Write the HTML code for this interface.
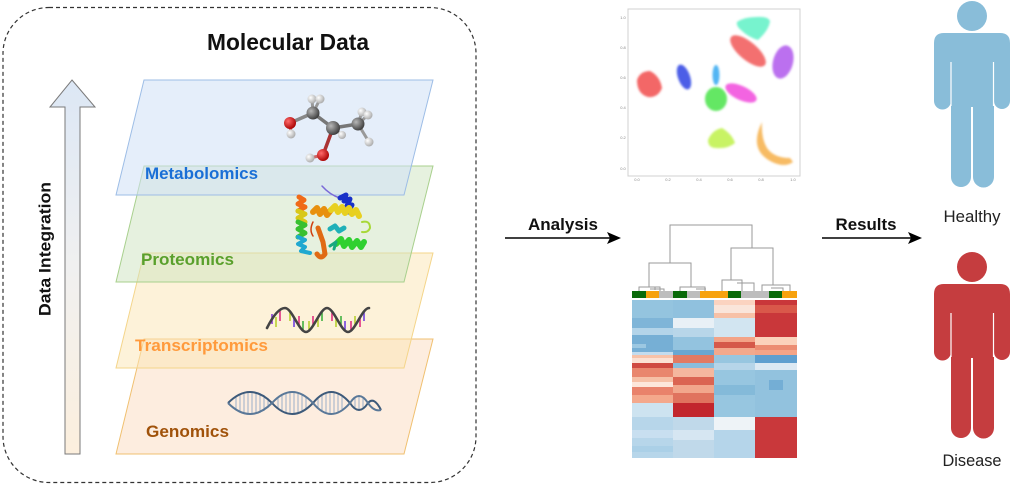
<!DOCTYPE html>
<html><head><meta charset="utf-8"><style>
html,body{margin:0;padding:0;background:#fff;}
svg{display:block;font-family:"Liberation Sans",Arial,sans-serif;}
</style></head><body>
<svg width="1024" height="484" viewBox="0 0 1024 484" xmlns="http://www.w3.org/2000/svg">
<defs>
<linearGradient id="arrG" x1="0" y1="0" x2="0" y2="1">
<stop offset="0" stop-color="#dce7f5"/><stop offset="0.5" stop-color="#f0f0f0"/><stop offset="1" stop-color="#fcefdd"/>
</linearGradient>
<radialGradient id="gC" cx="0.35" cy="0.35" r="0.7"><stop offset="0" stop-color="#b8b8b8"/><stop offset="1" stop-color="#3a3a3a"/></radialGradient>
<radialGradient id="gO" cx="0.35" cy="0.35" r="0.7"><stop offset="0" stop-color="#ff6a6a"/><stop offset="1" stop-color="#a80000"/></radialGradient>
<radialGradient id="gH" cx="0.35" cy="0.35" r="0.7"><stop offset="0" stop-color="#ffffff"/><stop offset="1" stop-color="#a8a8a8"/></radialGradient>
<filter id="blur" x="-20%" y="-20%" width="140%" height="140%"><feGaussianBlur stdDeviation="1"/></filter>
</defs>

<!-- dashed container -->
<rect x="3" y="7.5" width="473" height="475" rx="46" ry="46" fill="none" stroke="#333" stroke-width="1.2" stroke-dasharray="4,3"/>
<text x="288" y="50" font-size="23" font-weight="bold" text-anchor="middle" fill="#111" textLength="162" lengthAdjust="spacingAndGlyphs">Molecular Data</text>

<!-- data integration arrow -->
<polygon points="72,80 95,107 80,107 80,454 65,454 65,107 50,107" fill="url(#arrG)" stroke="#7a7a7a" stroke-width="1"/>
<text transform="translate(50.5,249) rotate(-90)" font-size="17" font-weight="bold" text-anchor="middle" fill="#111" textLength="134" lengthAdjust="spacingAndGlyphs">Data Integration</text>

<!-- planes -->
<polygon points="144,339 433,339 404,454 116,454" fill="#fcdcc0" fill-opacity="0.5" stroke="#f0c070" stroke-width="1"/>
<polygon points="144,253 433,253 404,368 116,368" fill="#fce6b3" fill-opacity="0.5" stroke="#f4d58a" stroke-width="1"/>
<polygon points="144,166 433,166 404,282 116,282" fill="#cde3c0" fill-opacity="0.5" stroke="#a8d08d" stroke-width="1"/>
<polygon points="144,80 433,80 404,195 116,195" fill="#cfe0f5" fill-opacity="0.55" stroke="#9dbde6" stroke-width="1"/>

<!-- labels -->
<text x="145" y="179" font-size="17" font-weight="bold" fill="#1a6fd6" textLength="113" lengthAdjust="spacingAndGlyphs">Metabolomics</text>
<text x="141" y="265" font-size="17" font-weight="bold" fill="#5aa02c" textLength="93" lengthAdjust="spacingAndGlyphs">Proteomics</text>
<text x="135" y="351" font-size="17" font-weight="bold" fill="#ff9a3c" textLength="133" lengthAdjust="spacingAndGlyphs">Transcriptomics</text>
<text x="146" y="437" font-size="17" font-weight="bold" fill="#a0520a" textLength="83" lengthAdjust="spacingAndGlyphs">Genomics</text>

<!-- molecule -->
<g stroke-linecap="round">
<line x1="313" y1="113" x2="290" y2="123" stroke="#888" stroke-width="3.5"/>
<line x1="313" y1="113" x2="333" y2="128" stroke="#777" stroke-width="3.5"/>
<line x1="333" y1="128" x2="358" y2="124" stroke="#777" stroke-width="3.5"/>
<line x1="333" y1="128" x2="323" y2="155" stroke="#a33" stroke-width="3.5"/>
<line x1="290" y1="123" x2="291" y2="134" stroke="#c66" stroke-width="3"/>
<line x1="323" y1="155" x2="310" y2="158" stroke="#c66" stroke-width="3"/>
<line x1="313" y1="113" x2="312" y2="99" stroke="#999" stroke-width="3"/>
<line x1="313" y1="113" x2="320" y2="99" stroke="#999" stroke-width="3"/>
<line x1="358" y1="124" x2="362" y2="112" stroke="#999" stroke-width="3"/>
<line x1="358" y1="124" x2="368" y2="115" stroke="#999" stroke-width="3"/>
<line x1="358" y1="124" x2="369" y2="142" stroke="#999" stroke-width="3"/>
<line x1="333" y1="128" x2="342" y2="135" stroke="#999" stroke-width="3"/>
</g>
<circle cx="312" cy="99" r="4.5" fill="url(#gH)"/>
<circle cx="320" cy="99" r="4.5" fill="url(#gH)"/>
<circle cx="362" cy="112" r="4.5" fill="url(#gH)"/>
<circle cx="368" cy="115" r="4.5" fill="url(#gH)"/>
<circle cx="313" cy="113" r="6.5" fill="url(#gC)"/>
<circle cx="290" cy="123" r="6" fill="url(#gO)"/>
<circle cx="291" cy="134" r="4.5" fill="url(#gH)"/>
<circle cx="358" cy="124" r="6.5" fill="url(#gC)"/>
<circle cx="342" cy="135" r="4" fill="url(#gH)"/>
<circle cx="333" cy="128" r="7" fill="url(#gC)"/>
<circle cx="369" cy="142" r="4.5" fill="url(#gH)"/>
<circle cx="323" cy="155" r="6" fill="url(#gO)"/>
<circle cx="310" cy="158" r="4.5" fill="url(#gH)"/>

<!-- protein -->
<g fill="none" stroke-linecap="round" stroke-linejoin="round">
<path d="M322,186 Q330,195 340,198" stroke="#7a6ad8" stroke-width="1.5"/>
<path d="M340,198 l6,-3 l-2,6 l6,-2 l-3,7 l5,-1 l-4,7" stroke="#1830c8" stroke-width="5"/>
<path d="M299,197 l5,3 l-6,4 l7,3 l-7,4" stroke="#f06a18" stroke-width="5"/>
<path d="M298,211 l7,3 l-7,4 l7,4" stroke="#d8c818" stroke-width="5"/>
<path d="M298,222 l7,3 l-7,4 l7,4 l-7,4" stroke="#38c030" stroke-width="5"/>
<path d="M298,237 l7,3 l-7,4 l7,3 l-4,4 l9,2" stroke="#20a8d0" stroke-width="4"/>
<path d="M313,212 l4,-4 l3,6 l4,-5 l3,6 l4,-5" stroke="#e8900e" stroke-width="6"/>
<path d="M331,210 l4,-4 l3,6 l4,-5 l3,6 l4,-5 l3,6 l4,-4 l3,6" stroke="#e8d020" stroke-width="6"/>
<path d="M362,222 q8,-2 8,6 q-2,5 -8,4" stroke="#a8d838" stroke-width="2"/>
<path d="M318,228 l5,14 l2,12 q-4,6 -8,0" stroke="#e06a14" stroke-width="5"/>
<path d="M313,222 q-4,8 0,14" stroke="#d04010" stroke-width="1.5"/>
<path d="M330,229 l5,-3 l4,5 l5,-3" stroke="#20b0b8" stroke-width="5"/>
<path d="M336,244 l5,-5 l3,7 l5,-6 l3,7 l5,-6 l4,6 l3,-5" stroke="#30d030" stroke-width="6"/>
<path d="M330,246 l6,-4 l-2,7" stroke="#18a880" stroke-width="3"/>
</g>

<!-- RNA -->
<g stroke-width="1.6">
<line x1="272" y1="314" x2="272" y2="324" stroke="#8a3ad8"/>
<line x1="276" y1="317" x2="276" y2="327" stroke="#b8d030"/>
<line x1="280" y1="311" x2="280" y2="321" stroke="#e03080"/>
<line x1="290" y1="311" x2="290" y2="321" stroke="#b8d030"/>
<line x1="294" y1="317" x2="294" y2="327" stroke="#7040e0"/>
<line x1="299" y1="316" x2="299" y2="326" stroke="#e03080"/>
<line x1="303" y1="321" x2="303" y2="331" stroke="#40b040"/>
<line x1="309" y1="321" x2="309" y2="331" stroke="#b8d030"/>
<line x1="313" y1="316" x2="313" y2="326" stroke="#e03080"/>
<line x1="318" y1="317" x2="318" y2="327" stroke="#b8d030"/>
<line x1="322" y1="311" x2="322" y2="321" stroke="#40b040"/>
<line x1="332" y1="311" x2="332" y2="321" stroke="#e03080"/>
<line x1="336" y1="317" x2="336" y2="327" stroke="#b8d030"/>
<line x1="341" y1="316" x2="341" y2="326" stroke="#40b040"/>
<line x1="345" y1="321" x2="345" y2="331" stroke="#7040e0"/>
<line x1="351" y1="321" x2="351" y2="331" stroke="#e03080"/>
<line x1="355" y1="316" x2="355" y2="326" stroke="#b8d030"/>
<line x1="360" y1="317" x2="360" y2="327" stroke="#e03080"/>
<line x1="364" y1="311" x2="364" y2="321" stroke="#7040e0"/>
</g>
<path d="M267,328 C271,320 278,308 285,308 S299,332 306,332 S320,308 327,308 S341,332 348,332 S362,308 369,308" fill="none" stroke="#444" stroke-width="2.6" stroke-linecap="round"/>

<!-- DNA -->
<g stroke="#9ab0c8" stroke-width="1">
<line x1="236" y1="397" x2="236" y2="409"/><line x1="240" y1="394" x2="240" y2="412"/><line x1="244" y1="393" x2="244" y2="413"/><line x1="248" y1="392" x2="248" y2="414"/><line x1="252" y1="392" x2="252" y2="414"/><line x1="256" y1="392" x2="256" y2="414"/><line x1="260" y1="393" x2="260" y2="413"/><line x1="264" y1="395" x2="264" y2="411"/><line x1="268" y1="398" x2="268" y2="408"/>
<line x1="278" y1="397" x2="278" y2="409"/><line x1="282" y1="394" x2="282" y2="412"/><line x1="286" y1="393" x2="286" y2="413"/><line x1="290" y1="392" x2="290" y2="414"/><line x1="294" y1="392" x2="294" y2="414"/><line x1="298" y1="393" x2="298" y2="413"/><line x1="302" y1="395" x2="302" y2="411"/><line x1="306" y1="397" x2="306" y2="409"/>
<line x1="318" y1="397" x2="318" y2="409"/><line x1="322" y1="394" x2="322" y2="412"/><line x1="326" y1="393" x2="326" y2="413"/><line x1="330" y1="392" x2="330" y2="414"/><line x1="334" y1="393" x2="334" y2="413"/><line x1="338" y1="394" x2="338" y2="412"/><line x1="342" y1="397" x2="342" y2="409"/>
<line x1="355" y1="398" x2="355" y2="408"/><line x1="359" y1="396" x2="359" y2="410"/><line x1="363" y1="398" x2="363" y2="408"/>
</g>
<g fill="none" stroke="#3d5a7a" stroke-width="2">
<path d="M228,403 Q250,381 272,403 Q292,425 313,403 Q331,381 350,403 Q359,417 368,403 Q374,396 381,410"/>
<path d="M228,403 Q250,425 272,403 Q292,381 313,403 Q331,425 350,403 Q359,389 368,403 Q374,412 381,410" stroke="#5a7898"/>
</g>

<!-- arrows -->
<line x1="505" y1="238" x2="612" y2="238" stroke="#000" stroke-width="1.5"/>
<polygon points="607,232 621,238 607,244 610,238" fill="#000"/>
<text x="563" y="230" font-size="17" font-weight="bold" text-anchor="middle" fill="#111" textLength="70" lengthAdjust="spacingAndGlyphs">Analysis</text>
<line x1="822" y1="238" x2="913" y2="238" stroke="#000" stroke-width="1.5"/>
<polygon points="908,232 922,238 908,244 911,238" fill="#000"/>
<text x="866" y="230" font-size="17" font-weight="bold" text-anchor="middle" fill="#111" textLength="61" lengthAdjust="spacingAndGlyphs">Results</text>

<!-- UMAP plot -->
<rect x="628" y="9" width="172" height="167" fill="#fff" stroke="#d0d0d0" stroke-width="1"/>
<g font-size="4" fill="#888" text-anchor="middle">
<text x="637" y="181">0.0</text><text x="668" y="181">0.2</text><text x="699" y="181">0.4</text><text x="730" y="181">0.6</text><text x="761" y="181">0.8</text><text x="793" y="181">1.0</text>
<text x="623" y="19">1.0</text><text x="623" y="49">0.8</text><text x="623" y="79">0.6</text><text x="623" y="109">0.4</text><text x="623" y="139">0.2</text><text x="623" y="170">0.0</text>
</g>
<g filter="url(#blur)" fill-opacity="0.78">
<path d="M737,22 Q744,17 756,17 Q768,16 770,21 Q769,30 758,40 Q748,37 741,30 Q736,26 737,22 Z" fill="#50f0c0"/>
<ellipse cx="748" cy="51" rx="22" ry="9" transform="rotate(40 748 51)" fill="#f04848"/>
<ellipse cx="783" cy="62" rx="10" ry="17" transform="rotate(15 783 62)" fill="#a848ea"/>
<path d="M637,80 Q640,71 650,71 Q660,76 662,88 Q658,98 648,97 Q637,94 637,80 Z" fill="#f03c3c"/>
<ellipse cx="684" cy="77" rx="6" ry="13" transform="rotate(-20 684 77)" fill="#1a30e0"/>
<ellipse cx="716" cy="75" rx="3.5" ry="10" fill="#20a0f0"/>
<ellipse cx="741" cy="93" rx="17" ry="7" transform="rotate(25 741 93)" fill="#f038d8"/>
<ellipse cx="716" cy="99" rx="11" ry="12" fill="#38e038"/>
<path d="M708,140 Q712,130 722,128 Q732,134 735,143 Q728,149 716,148 Q708,148 708,140 Z" fill="#b8f038"/>
<path d="M762,122 Q748,150 772,162 Q785,168 793,162 L790,158 Q774,158 767,148 Q761,138 762,122 Z" fill="#f5a838"/>
</g>

<!-- dendrogram -->
<g fill="none" stroke="#9a9a9a" stroke-width="1">
<path d="M670,263 V225 H752 V248"/>
<path d="M649,287 V263 H691 V287"/>
<path d="M731,280 V248 H773 V285"/>
<path d="M639,292 V287 H660 V292 M655,287 V290 M650,289 H664 V292"/>
<path d="M680,292 V287 H705 V292 M691,287 M696,289 H706"/>
<path d="M722,292 V280 H742 V292 M737,283 H754 V292"/>
<path d="M762,292 V285 H790 V292 M771,288 H783 V292"/>
</g>

<!-- color bar -->
<g>
<rect x="632" y="291" width="14" height="7" fill="#0a6a0a"/>
<rect x="646" y="291" width="13" height="7" fill="#f7a20e"/>
<rect x="659" y="291" width="14" height="7" fill="#bdbdbd"/>
<rect x="673" y="291" width="14" height="7" fill="#0a6a0a"/>
<rect x="687" y="291" width="13" height="7" fill="#bdbdbd"/>
<rect x="700" y="291" width="28" height="7" fill="#f7a20e"/>
<rect x="728" y="291" width="13" height="7" fill="#0a6a0a"/>
<rect x="741" y="291" width="28" height="7" fill="#bdbdbd"/>
<rect x="769" y="291" width="13" height="7" fill="#0a6a0a"/>
<rect x="782" y="291" width="15" height="7" fill="#f7a20e"/>
</g>

<!-- heatmap -->
<g shape-rendering="crispEdges">
<!-- group A -->
<rect x="632" y="300" width="41" height="18" fill="#94c4df"/>
<rect x="632" y="318" width="41" height="10" fill="#7fb5d8"/>
<rect x="632" y="328" width="41" height="7" fill="#b3d4e9"/>
<rect x="632" y="335" width="41" height="17" fill="#76afd5"/>
<rect x="632" y="344" width="14" height="4" fill="#9cc8e2"/>
<rect x="632" y="352" width="41" height="3" fill="#c3dcee"/>
<rect x="632" y="355" width="41" height="3" fill="#f7c2a8"/>
<rect x="632" y="358" width="41" height="5" fill="#fbe1d3"/>
<rect x="632" y="363" width="41" height="5" fill="#cf4a41"/>
<rect x="632" y="368" width="41" height="9" fill="#e9866d"/>
<rect x="632" y="377" width="41" height="5" fill="#f6c0a6"/>
<rect x="632" y="382" width="41" height="5" fill="#fde6da"/>
<rect x="632" y="387" width="41" height="8" fill="#e9826b"/>
<rect x="632" y="395" width="41" height="8" fill="#f4a88c"/>
<rect x="632" y="403" width="41" height="14" fill="#cde3f0"/>
<rect x="632" y="417" width="41" height="41" fill="#b7d6ea"/>
<rect x="632" y="430" width="41" height="8" fill="#c8dff0"/>
<rect x="632" y="446" width="41" height="6" fill="#abd0e7"/>
<!-- group B -->
<rect x="673" y="300" width="41" height="18" fill="#90c1de"/>
<rect x="673" y="318" width="41" height="10" fill="#e8f0f6"/>
<rect x="673" y="328" width="41" height="9" fill="#b8d6e9"/>
<rect x="673" y="337" width="41" height="13" fill="#93c3df"/>
<rect x="673" y="350" width="41" height="5" fill="#6aa7d1"/>
<rect x="673" y="355" width="41" height="8" fill="#e27a63"/>
<rect x="673" y="363" width="41" height="5" fill="#8abddc"/>
<rect x="673" y="368" width="41" height="9" fill="#f5b79e"/>
<rect x="673" y="377" width="41" height="8" fill="#db6552"/>
<rect x="673" y="385" width="41" height="8" fill="#f2a78c"/>
<rect x="673" y="393" width="41" height="10" fill="#e0735e"/>
<rect x="673" y="403" width="41" height="14" fill="#c2262d"/>
<rect x="673" y="417" width="41" height="41" fill="#c0d9ea"/>
<rect x="673" y="430" width="41" height="10" fill="#d6e6f2"/>
<!-- group C -->
<rect x="714" y="300" width="41" height="5" fill="#fbd3c0"/>
<rect x="714" y="305" width="41" height="8" fill="#fae5da"/>
<rect x="714" y="313" width="41" height="5" fill="#f7c1a7"/>
<rect x="714" y="318" width="41" height="19" fill="#d2e5f1"/>
<rect x="714" y="337" width="41" height="5" fill="#f3a387"/>
<rect x="714" y="342" width="41" height="6" fill="#d5594a"/>
<rect x="714" y="348" width="41" height="7" fill="#f2a98d"/>
<rect x="714" y="355" width="41" height="62" fill="#97c6e0"/>
<rect x="714" y="363" width="41" height="7" fill="#b6d5e9"/>
<rect x="714" y="385" width="41" height="10" fill="#84bad9"/>
<rect x="714" y="417" width="41" height="13" fill="#eef3f7"/>
<rect x="714" y="430" width="41" height="28" fill="#b5d5ea"/>
<!-- group D -->
<rect x="755" y="300" width="42" height="37" fill="#c9373a"/>
<rect x="755" y="305" width="42" height="8" fill="#d9584a"/>
<rect x="755" y="337" width="42" height="8" fill="#fbd2bb"/>
<rect x="755" y="345" width="42" height="5" fill="#ec8d72"/>
<rect x="755" y="350" width="42" height="5" fill="#f4a487"/>
<rect x="755" y="355" width="42" height="8" fill="#5f9fcf"/>
<rect x="755" y="363" width="42" height="7" fill="#dce9f3"/>
<rect x="755" y="370" width="42" height="47" fill="#92c2de"/>
<rect x="769" y="380" width="14" height="10" fill="#74aed5"/>
<rect x="755" y="417" width="42" height="41" fill="#c9383b"/>
</g>

<!-- people -->
<g>
<circle cx="972" cy="16" r="15" fill="#89bdd9"/>
<path d="M944,33 H1000 Q1010,33 1010,43 V101 A8 8 0 0 1 994,101 V177 A10.5 10.5 0 0 1 973,177 V107 H971 V177 A10 10 0 0 1 951,177 V101 A8.5 8.5 0 0 1 934,101 V43 Q934,33 944,33 Z" fill="#89bdd9"/>
<line x1="951" y1="62" x2="951" y2="106" stroke="#fff" stroke-width="1.2"/>
<line x1="993.5" y1="62" x2="993.5" y2="106" stroke="#fff" stroke-width="1.2"/>
</g>
<g transform="translate(0,251)">
<circle cx="972" cy="16" r="15" fill="#c53d3f"/>
<path d="M944,33 H1000 Q1010,33 1010,43 V101 A8 8 0 0 1 994,101 V177 A10.5 10.5 0 0 1 973,177 V107 H971 V177 A10 10 0 0 1 951,177 V101 A8.5 8.5 0 0 1 934,101 V43 Q934,33 944,33 Z" fill="#c53d3f"/>
<line x1="951" y1="62" x2="951" y2="106" stroke="#fff" stroke-width="1.2"/>
<line x1="993.5" y1="62" x2="993.5" y2="106" stroke="#fff" stroke-width="1.2"/>
</g>
<text x="972" y="222" font-size="16.5" text-anchor="middle" fill="#222" textLength="57" lengthAdjust="spacingAndGlyphs">Healthy</text>
<text x="972" y="466" font-size="16.5" text-anchor="middle" fill="#222" textLength="59" lengthAdjust="spacingAndGlyphs">Disease</text>
</svg>
</body></html>
